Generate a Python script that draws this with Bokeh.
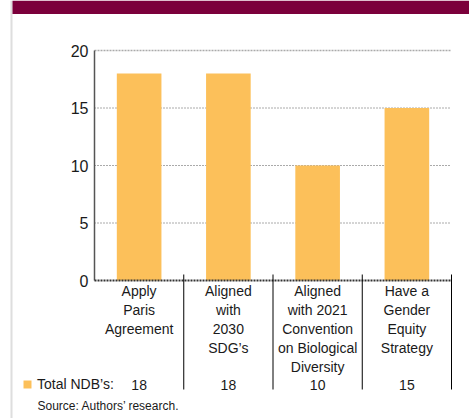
from bokeh.plotting import figure
from bokeh.models import (ColumnDataSource, BoxAnnotation, Legend, LegendItem, Range1d)
from bokeh.embed import file_html
from bokeh.resources import INLINE

# ---- data ----
categories = ["Apply\nParis\nAgreement",
              "Aligned\nwith\n2030\nSDG\u2019s",
              "Aligned\nwith 2021\nConvention\non Biological\nDiversity",
              "Have a\nGender\nEquity\nStrategy"]
totals = [18, 18, 10, 15]
y_ticks = [0, 5, 10, 15, 20]
grid_ticks = [5, 10, 15]
series_label = "Total NDB\u2019s:"
source_note = "Source: Authors\u2019 research."

# ---- layout (canvas pixels) ----
W, H = 469, 418
PL, PR, PT, PB = 94, 451, 50, 280      # plot area edges in pixels
n = len(categories)
Y0, Y1 = 0, 20
XPU = (PR - PL) / n
YPU = (PB - PT) / (Y1 - Y0)

def dx(px):
    return 0.5 + (px - PL) / XPU

def dy(py):
    return Y0 + (PB - py) / YPU

FONT = "Liberation Sans"
BAR = "#FCC05A"
INK = "#1a1a1a"

p = figure(width=W, height=H, output_backend="svg", toolbar_location=None,
           x_range=Range1d(dx(0), dx(W)), y_range=Range1d(dy(H), dy(0)),
           min_border=0)
p.axis.visible = False
p.grid.visible = False
p.outline_line_color = None
p.background_fill_color = "white"
p.border_fill_color = "white"

xs = list(range(1, n + 1))
bounds = [i + 0.5 for i in xs]
src = ColumnDataSource(dict(x=xs, top=totals, cat=categories,
                            val=[str(v) for v in totals]))

# decorations
p.add_layout(BoxAnnotation(left=dx(10), right=dx(12), top=dy(0), bottom=dy(H),
                           fill_color="#dedede", fill_alpha=1, line_color=None))
p.add_layout(BoxAnnotation(left=dx(12), right=dx(W), top=dy(0), bottom=dy(13.5),
                           fill_color="#7B003B", fill_alpha=1, line_color=None))

# grid lines
p.segment(x0=0.5, x1=n + 0.5, y0=grid_ticks, y1=grid_ticks,
          line_color="#555555", line_dash="1 2", line_width=1)
p.segment(x0=0.5, x1=n + 0.5, y0=Y1, y1=Y1,
          line_color="#aaaaaa", line_dash="2 1", line_width=1.5)

# bars
bars = p.vbar(x="x", top="top", width=0.5, source=src, color=BAR, line_color=None)

# axes lines
p.segment(x0=0.5, x1=0.5, y0=Y0, y1=Y1, line_color="#555555", line_width=1.5)
p.segment(x0=0.5, x1=n + 0.5, y0=Y0, y1=Y0, line_color="#333333",
          line_width=2, line_dash="2 1")
# separators between categories
p.segment(x0=bounds, x1=bounds, y0=dy(274), y1=dy(389),
          line_color="black", line_width=1)

# y tick labels
p.text(x=dx(88), y=y_ticks, text=[str(t) for t in y_ticks],
       text_align="right", text_baseline="middle",
       text_font={"value": FONT}, text_font_size="16px", text_color=INK)

# category labels
p.text(x="x", y=dy(282), text="cat", source=src,
       text_align="center", text_baseline="top",
       text_font={"value": FONT}, text_font_size="14px",
       text_line_height=1.19, text_color=INK)
# value row
p.text(x="x", y=dy(384), text="val", source=src,
       text_align="center", text_baseline="middle",
       text_font={"value": FONT}, text_font_size="14px", text_color=INK)

# legend
legend = Legend(items=[LegendItem(label=series_label, renderers=[bars])],
                location=(22, 26), border_line_color=None,
                background_fill_alpha=0, padding=0, margin=0, spacing=0,
                glyph_width=10, glyph_height=10, label_standoff=5,
                label_height=10, label_text_font=FONT,
                label_text_font_size="14px", label_text_color=INK)
p.add_layout(legend)

# source note
p.text(x=dx(37), y=dy(412.5), text=[source_note], text_baseline="bottom",
       text_font={"value": FONT}, text_font_size="12px", text_color=INK)

open("out.html", "w").write(file_html(p, INLINE))
